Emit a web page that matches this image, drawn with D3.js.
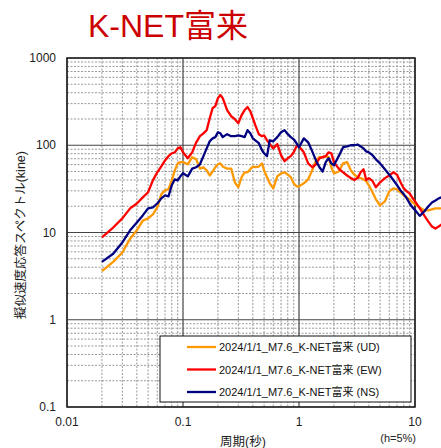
<!DOCTYPE html>
<html>
<head>
<meta charset="utf-8">
<script src="https://cdn.jsdelivr.net/npm/d3@7"></script>
<style>
body { margin: 0; background: #fff; }
text { font-family: "Liberation Sans", "Noto Sans CJK JP", sans-serif; }
</style>
</head>
<body>
<svg id="chart" width="441" height="448"></svg>
<script>
// periods (s)
var periods = [0.02,0.025,0.03,0.035,0.04,0.045,0.05,0.055,0.06,0.065,0.07,0.075,0.08,0.085,0.09,0.095,
  0.1,0.11,0.12,0.13,0.14,0.15,0.16,0.17,0.18,0.19,0.2,0.21,0.22,0.24,0.26,0.28,0.3,0.32,0.34,0.36,0.38,0.4,0.42,0.45,0.48,0.5,0.53,0.56,0.6,0.65,0.7,0.75,0.8,0.85,0.9,0.95,
  1,1.1,1.2,1.3,1.4,1.5,1.6,1.7,1.8,1.9,2,2.2,2.4,2.6,2.8,3,3.2,3.4,3.6,3.8,4,4.3,4.6,5,5.5,6,6.5,7,7.5,8,8.5,9,9.5,
  10,11,12,13,14,15,16,17];

var ud = [3.6,4.6,5.9,8.5,10.6,13.7,14.5,16.1,19.4,27.4,30.4,31.3,39.6,51.6,62,64,
  64,60.5,73,69,54,56,51.6,45,50,56,60.5,62,57,54,54,37.6,33,43,49,49,53,57,56,57,62,51.6,43,36.6,32,44,47.7,49,46,43,36.6,33.8,
  33.8,36.6,40.7,51.6,67,73,73,75,73,56,47.7,50,62,64,51.6,46,43,42,40.7,38.6,34.7,28.9,24,20.4,22.7,29.6,32,31.3,28.9,26.6,25.3,24,22.1,
  21,19.4,17.9,17.9,18.4,18.9,18.9,18.9];

var ew = [8.8,11.4,14.5,18.9,21.5,25.3,28.9,39.6,49,57.4,67,75,81,83,92,95,
  83,71,83,108,127,137,149,204,266,281,347,376,347,253,215,199,179,221,253,274,246,204,170,134,127,130,114,103,92,103,77,65.5,71,75,83,97,
  97,83,62,56,60.5,71,73,75,83,81,64,54,49,45,42,40,42,49,53,40,42,39,33,37.6,42,45,49,46,37.6,32,29.6,28,25,
  22.7,18.9,15.7,13.4,11.7,11.1,11.7,12.4];

var ns = [4.6,5.7,7.7,10.6,13,15.7,18.9,19.4,21.5,24.6,26.6,26,34.7,40.7,39.6,44,
  47.7,44,54,56,60.5,75,92,111,120,124,141,137,124,134,127,127,130,127,124,149,137,120,114,106,87.6,81,75,114,111,124,141,149,134,124,117,106,
  95,120,108,85,67,56,50,64,71,62,59,75,95,97,100,100,102,97,92,85,83,77,69,62,53,46,40,35,30.4,27.4,24.6,21.5,19.4,
  18.1,15.5,17.4,19.9,22.1,23.3,24.6,25.3];

var seriesNames = ["2024/1/1_M7.6_K-NET富来 (UD)", "2024/1/1_M7.6_K-NET富来 (EW)", "2024/1/1_M7.6_K-NET富来 (NS)"];
var seriesColors = ["#ff9900", "#ff0000", "#000080"];
var xTicks = [0.01, 0.1, 1, 10];
var xTickLabels = ["0.01", "0.1", "1", "10"];
var yTicks = [0.1, 1, 10, 100, 1000];
var yTickLabels = ["0.1", "1", "10", "100", "1000"];

var svg = d3.select("#chart");
var plotL = 67, plotR = 415, plotT = 58, plotB = 407;

var x = d3.scaleLog().domain([0.01, 10]).range([plotL, plotR]);
var y = d3.scaleLog().domain([0.1, 1000]).range([plotB, plotT]);

// title
svg.append("text")
  .attr("x", 88).attr("y", 37)
  .attr("fill", "#cc0000")
  .style("font-size", "32px")
  .text("K-NET富来");

// minor grid
var xMinor = [], yMinor = [];
[0.01, 0.1, 1].forEach(function(d) { for (var k = 2; k <= 9; k++) xMinor.push(d * k); });
[0.1, 1, 10, 100].forEach(function(d) { for (var k = 2; k <= 9; k++) yMinor.push(d * k); });

var grid = svg.append("g");
grid.selectAll(".xm").data(xMinor).enter().append("line")
  .attr("x1", d => x(d)).attr("x2", d => x(d))
  .attr("y1", plotT).attr("y2", plotB)
  .attr("stroke", "#999").attr("stroke-dasharray", "2,1.5").attr("stroke-width", 1);
grid.selectAll(".ym").data(yMinor).enter().append("line")
  .attr("x1", plotL).attr("x2", plotR)
  .attr("y1", d => y(d)).attr("y2", d => y(d))
  .attr("stroke", "#999").attr("stroke-dasharray", "2,1.5").attr("stroke-width", 1);
grid.selectAll(".xM").data(xTicks).enter().append("line")
  .attr("x1", d => x(d)).attr("x2", d => x(d))
  .attr("y1", plotT).attr("y2", plotB)
  .attr("stroke", "#444").attr("stroke-width", 1.2);
grid.selectAll(".yM").data(yTicks).enter().append("line")
  .attr("x1", plotL).attr("x2", plotR)
  .attr("y1", d => y(d)).attr("y2", d => y(d))
  .attr("stroke", "#444").attr("stroke-width", 1.2);

svg.append("rect")
  .attr("x", plotL).attr("y", plotT)
  .attr("width", plotR - plotL).attr("height", plotB - plotT)
  .attr("fill", "none").attr("stroke", "#222").attr("stroke-width", 1.5);

// tick labels
svg.selectAll(".xl").data(xTicks).enter().append("text")
  .attr("x", d => x(d)).attr("y", 426)
  .attr("text-anchor", "middle")
  .style("font-size", "12px").attr("fill", "#222")
  .text((d, i) => xTickLabels[i]);
svg.selectAll(".yl").data(yTicks).enter().append("text")
  .attr("x", 56).attr("y", d => y(d) + 4)
  .attr("text-anchor", "end")
  .style("font-size", "12px").attr("fill", "#222")
  .text((d, i) => yTickLabels[i]);

// axis titles
svg.append("text")
  .attr("x", 243).attr("y", 446)
  .attr("text-anchor", "middle")
  .style("font-size", "12.5px").attr("fill", "#222")
  .text("周期(秒)");
svg.append("text")
  .attr("x", 416).attr("y", 442)
  .attr("text-anchor", "end")
  .style("font-size", "11px").attr("fill", "#222")
  .text("(h=5%)");
svg.append("text")
  .attr("transform", "translate(25,235) rotate(-90)")
  .attr("text-anchor", "middle")
  .style("font-size", "12.5px").attr("fill", "#222")
  .text("擬似速度応答スペクトル(kine)");

// curves
var line = d3.line()
  .x(d => x(d[0]))
  .y(d => y(d[1]));

[ud, ew, ns].forEach(function(vals, i) {
  svg.append("path")
    .datum(periods.map((p, j) => [p, vals[j]]))
    .attr("d", line)
    .attr("fill", "none")
    .attr("stroke", seriesColors[i])
    .attr("stroke-width", 2.3)
    .attr("stroke-linejoin", "round");
});

// legend
var lg = svg.append("g");
lg.append("rect")
  .attr("x", 160).attr("y", 336)
  .attr("width", 251).attr("height", 66)
  .attr("fill", "#fff").attr("stroke", "#111").attr("stroke-width", 1);
seriesNames.forEach(function(name, i) {
  var yy = 347 + i * 22.5;
  lg.append("line")
    .attr("x1", 187).attr("x2", 216)
    .attr("y1", yy).attr("y2", yy)
    .attr("stroke", seriesColors[i]).attr("stroke-width", 2.3);
  lg.append("text")
    .attr("x", 219).attr("y", yy + 4)
    .style("font-size", "11px").attr("fill", "#111")
    .text(name);
});
</script>
</body>
</html>
